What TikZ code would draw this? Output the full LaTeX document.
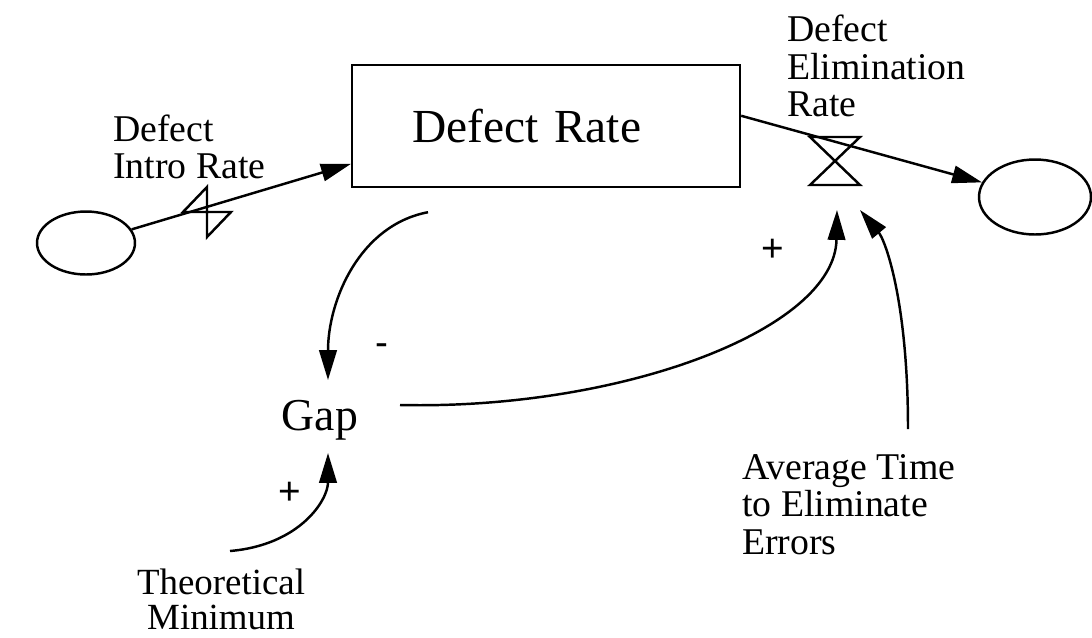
\documentclass[tikz,border=0pt]{standalone}
\usepackage{fontspec}
\setmainfont{Liberation Serif}
\newfontfamily\signfont{Liberation Sans}
\usetikzlibrary{arrows.meta,shapes.geometric,calc}

\begin{document}
\begin{tikzpicture}[x=0.02cm, y=-0.02cm, line width=1.4pt]
\tikzset{stock/.style={draw, rectangle, minimum width=7.76cm, minimum height=2.44cm, text width=5.36cm, align=left, inner xsep=1.2cm, font=\fontsize{27}{29}\selectfont}}
\tikzset{sink/.style={draw, ellipse, inner sep=0pt}}
\tikzset{varname/.style={inner sep=0pt, font=\fontsize{21.5}{21.3}\selectfont}}
\tikzset{sign/.style={inner sep=0pt, font=\signfont\fontsize{22}{22}\selectfont}}
\tikzset{flow/.style={-{Triangle[length=17pt,width=10pt]}}}
\tikzset{link/.style={-{Triangle[length=17pt,width=10pt]}}}
\useasboundingbox (0,0) rectangle (1092,637);
% stock and clouds
\node[stock] (rate) at (546,126) {Defect Rate};
\node[sink, minimum width=1.96cm, minimum height=1.26cm] (srcL) at (86,243) {};
\node[sink, minimum width=2.24cm, minimum height=1.5cm] (sinkR) at (1035,197) {};
% valves
\coordinate (vin) at (207,212);
\coordinate (vout) at (835,161);
\draw[flow] (srcL) -- (rate.191);
\draw[flow] (rate.3) -- (sinkR);
\draw ($(vin)+(0,-25)$) -- ($(vin)+(-24,0)$) -- ($(vin)+(24,0)$) -- ($(vin)+(0,25)$) -- cycle;
\draw ($(vout)+(-25,-24)$) -- ++(50,0) -- ++(-50,48) -- ++(50,0) -- cycle;
% variable names
\node[varname, align=left, anchor=west] (intro) at (112,147) {Defect\\Intro Rate};
\node[varname, align=left, anchor=north west] (elim) at (786,14) {Defect\\Elimination\\Rate};
\node[varname, align=left, anchor=north west] (avg) at (741,453) {Average Time\\to Eliminate\\Errors};
\node[varname, align=center, anchor=north, font=\fontsize{21}{20}\selectfont] (theo) at (221,568) {Theoretical\\Minimum};
\node[inner sep=0pt, font=\fontsize{26}{28}\selectfont] (gap) at (320,420) {Gap};
% links
\draw[link] ($(rate.south)+(-118,24)$) .. controls (360,225) and (328,300) .. ($(gap)+(8,-40)$);
\draw[link] ($(gap)+(80,-15)$) .. controls (620,410) and (835,330) .. ($(vout)+(2,49)$);
\draw[link] ($(avg.north west)+(167,-24)$) .. controls (908,300) and (885,240) .. ($(vout)+(25,49)$);
\draw[link] ($(theo.north)+(9,-17)$) .. controls (300,545) and (328,500) .. ($(gap)+(8,33)$);
% polarities
\node[sign] (s1) at (382,350) {-};
\node[sign] (s2) at (773,250) {+};
\node[sign] (s3) at (290,493) {+};
\end{tikzpicture}
\end{document}
